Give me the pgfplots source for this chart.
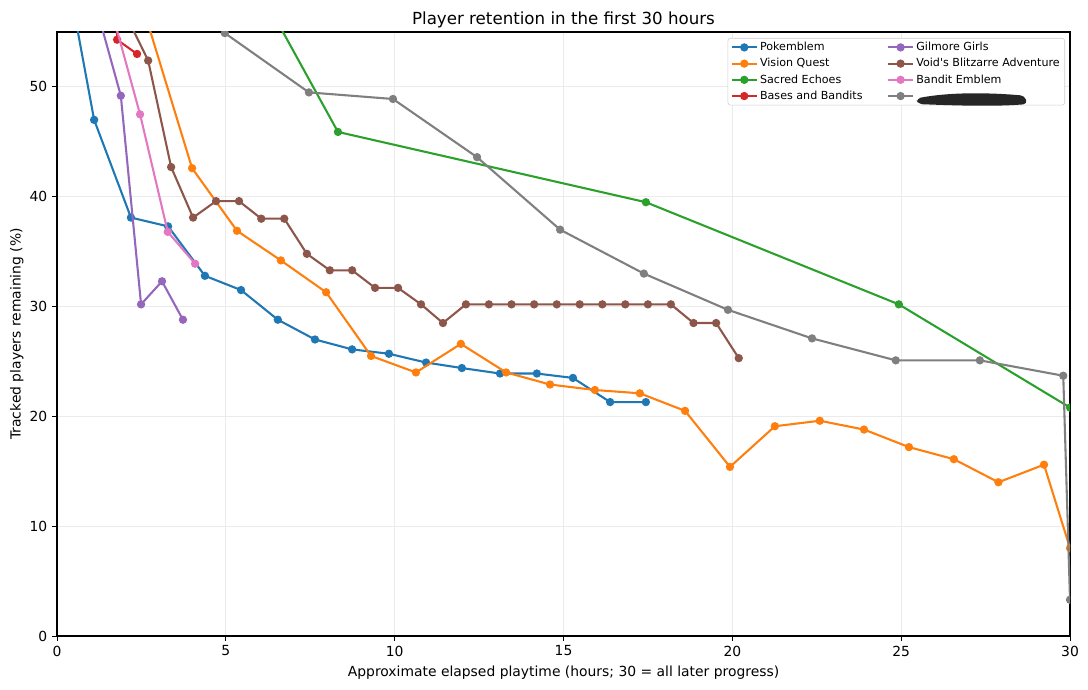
\documentclass[border=0pt]{standalone}
\usepackage{pgfplots}
\pgfplotsset{compat=1.18}
\usepackage{fontspec}
\setmainfont{DejaVu Sans}
\newfontfamily\plainfont{DejaVu Sans}
\definecolor{c0}{HTML}{1F77B4}
\definecolor{c1}{HTML}{FF7F0E}
\definecolor{c2}{HTML}{2CA02C}
\definecolor{c3}{HTML}{D62728}
\definecolor{c4}{HTML}{9467BD}
\definecolor{c5}{HTML}{8C564B}
\definecolor{c6}{HTML}{E377C2}
\definecolor{c7}{HTML}{7F7F7F}
\begin{document}
\begin{tikzpicture}
\useasboundingbox (-41.04pt,-38.88pt) rectangle (742.32pt,457.92pt);
\begin{axis}[
  at={(0,0)}, anchor=south west,
  width=729.36pt, height=434.88pt, scale only axis,
  xmin=0, xmax=30, ymin=0, ymax=55,
  xtick={0,5,...,30}, ytick={0,10,...,50},
  tick align=outside, xtick pos=bottom, ytick pos=left,
  major tick length=3.5pt,
  tick style={black, line width=0.6pt},
  axis line style={black, line width=0.8pt},
  grid=major, grid style={black!8, line width=0.6pt},
  /pgf/number format/assume math mode=true,
  tick label style={font=\fontsize{10}{12}\selectfont},
  label style={font=\fontsize{10}{12}\selectfont},
  ylabel shift=-2.5pt,
  title style={font=\fontsize{12}{14}\selectfont, yshift=-6.5pt},
  title={Player retention in the first 30 hours},
  xlabel={Approximate elapsed playtime (hours; 30 = all later progress)},
  ylabel={Tracked players remaining (\%)},
  clip marker paths=true,
  every axis plot/.append style={line width=1.5pt, mark=*, mark size=2.2pt, mark options={solid}},
  legend columns=4,
  transpose legend,
  legend cell align=left,
  legend style={at={(1,1)}, anchor=north east, xshift=-3.6pt, yshift=-4.3pt,
    font=\fontsize{8}{9}\selectfont, draw=black!20, rounded corners=2pt,
    /tikz/every even column/.append style={column sep=16pt},
    row sep=0.9pt, inner xsep=2pt, inner ysep=1.2pt,
    nodes={inner sep=1.6pt}},
  legend image code/.code={\draw[mark repeat=2,mark phase=2] plot coordinates {(0pt,0pt)(9pt,0pt)(18pt,0pt)};},
]
\addplot[c0] coordinates {(0,65.3)(1.10,47.0)(2.19,38.1)(3.29,37.3)(4.38,32.8)(5.45,31.5)(6.54,28.8)(7.64,27.0)(8.74,26.1)(9.83,25.7)(10.93,24.9)(11.99,24.4)(13.12,23.9)(14.21,23.9)(15.28,23.5)(16.38,21.3)(17.44,21.3)};
\addlegendentry{Pokemblem}
\addplot[c1] coordinates {(2.67,56.0)(4.0,42.6)(5.33,36.9)(6.63,34.2)(7.97,31.3)(9.30,25.5)(10.63,24.0)(11.96,26.6)(13.3,24.0)(14.6,22.9)(15.93,22.4)(17.26,22.1)(18.6,20.5)(19.93,15.4)(21.26,19.1)(22.59,19.6)(23.9,18.8)(25.23,17.2)(26.56,16.1)(27.88,14.0)(29.23,15.6)(30,8.0)};
\addlegendentry{Vision Quest}
\addplot[c2] coordinates {(0,92.4)(8.32,45.9)(17.44,39.5)(24.93,30.2)(30,20.8)};
\addlegendentry{Sacred Echoes}
\addplot[c3] coordinates {(1.72,69)(1.78,54.3)(2.37,53.0)};
\addlegendentry{Bases and Bandits}
\addplot[c4] coordinates {(1.25,56.3)(1.89,49.2)(2.49,30.2)(3.11,32.3)(3.73,28.8)};
\addlegendentry{Gilmore Girls}
\addplot[c5] coordinates {(2.0,56.8)(2.70,52.4)(3.38,42.7)(4.03,38.1)(4.71,39.6)(5.39,39.6)(6.05,38.0)(6.73,38.0)(7.4,34.8)(8.08,33.3)(8.74,33.3)(9.42,31.7)(10.1,31.7)(10.78,30.2)(11.43,28.5)(12.11,30.2)(12.79,30.2)(13.46,30.2)(14.13,30.2)(14.8,30.2)(15.48,30.2)(16.15,30.2)(16.83,30.2)(17.5,30.2)(18.18,30.2)(18.85,28.5)(19.52,28.5)(20.19,25.3)};
\addlegendentry{{\plainfont Void's Blitzarre Adventure}}
\addplot[c6] coordinates {(1.65,56.6)(2.46,47.5)(3.28,36.8)(4.09,33.9)};
\addlegendentry{Bandit Emblem}
\addplot[c7] coordinates {(4.97,54.9)(7.46,49.5)(9.95,48.9)(12.44,43.6)(14.9,37.0)(17.38,33.0)(19.87,29.7)(22.36,27.1)(24.84,25.1)(27.33,25.1)(29.8,23.7)(30,3.3)};
\addlegendentry{\tikz[baseline=-2pt]{\fill[black!85, rounded corners=3pt] (-16pt,-2pt) .. controls (10pt,3pt) and (40pt,2pt) .. (62pt,0pt) -- (64pt,-6pt) .. controls (40pt,-8pt) and (10pt,-7pt) .. (-15pt,-6pt) -- cycle;}}
\end{axis}
\end{tikzpicture}
\end{document}
